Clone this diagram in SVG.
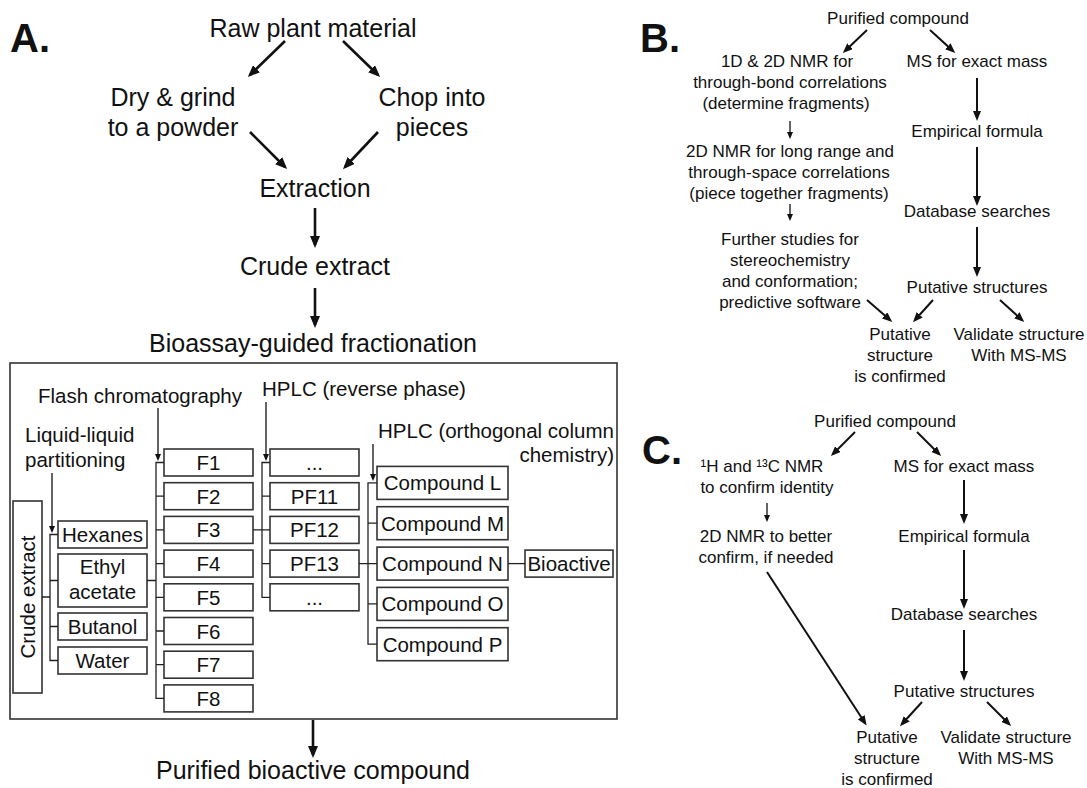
<svg xmlns="http://www.w3.org/2000/svg" width="1087" height="788" viewBox="0 0 1087 788">
<defs>
<style>
text{font-family:"Liberation Sans",Arial,sans-serif;fill:#111}
.big{font-size:25px}
.md{font-size:20.5px}
.sm{font-size:17px}
.lab{font-size:40px;font-weight:bold}
.mid{text-anchor:middle}
.box{fill:#fff;stroke:#333;stroke-width:1.6}
.br{fill:none;stroke:#222;stroke-width:1.3}
.aA{stroke:#111;stroke-width:2.6;fill:none;marker-end:url(#hA)}
.aB{stroke:#111;stroke-width:2;fill:none;marker-end:url(#hB)}
.aS{stroke:#111;stroke-width:1.3;fill:none;marker-end:url(#hS)}
</style>
<marker id="hA" markerUnits="userSpaceOnUse" viewBox="0 0 12 10" markerWidth="12" markerHeight="10" refX="9" refY="5" orient="auto"><path d="M0,0L12,5L0,10z" fill="#111"/></marker>
<marker id="hB" markerUnits="userSpaceOnUse" viewBox="0 0 10 8" markerWidth="10" markerHeight="8" refX="7" refY="4" orient="auto"><path d="M0,0L10,4L0,8z" fill="#111"/></marker>
<marker id="hS" markerUnits="userSpaceOnUse" viewBox="0 0 7 6" markerWidth="7" markerHeight="6" refX="5" refY="3" orient="auto"><path d="M0,0L7,3L0,6z" fill="#111"/></marker>
</defs>
<rect width="1087" height="788" fill="#fff"/>

<g id="labels">
<text class="lab" x="10" y="52">A.</text>
<text class="lab" x="640" y="52">B.</text>
<text class="lab" x="642" y="464">C.</text>
</g>

<g id="fractionation-box"><rect x="10" y="363" width="607" height="356" fill="none" stroke="#333" stroke-width="1.6"/></g>

<g id="raw"><text class="big mid" x="313" y="37">Raw plant material</text></g>
<g id="dry"><text class="big mid" x="173" y="106">Dry &amp; grind</text><text class="big mid" x="173" y="136">to a powder</text></g>
<g id="chop"><text class="big mid" x="432" y="106">Chop into</text><text class="big mid" x="432" y="136">pieces</text></g>
<g id="extraction"><text class="big mid" x="315" y="197">Extraction</text></g>
<g id="crude"><text class="big mid" x="315" y="275">Crude extract</text></g>
<g id="bioassay"><text class="big mid" x="313" y="352">Bioassay-guided fractionation</text></g>
<g id="purified"><text class="big mid" x="313" y="779">Purified bioactive compound</text></g>

<g id="flash-label"><text class="md" x="38" y="403">Flash chromatography</text></g>
<g id="hplc-rp-label"><text class="md" x="262" y="396">HPLC (reverse phase)</text></g>
<g id="lle-label"><text class="md" x="25" y="442">Liquid-liquid</text><text class="md" x="25" y="467">partitioning</text></g>
<g id="hplc-orth-label"><text class="md" x="378" y="438">HPLC (orthogonal column</text><text class="md" x="614" y="462" text-anchor="end">chemistry)</text></g>

<g id="crude-box"><rect class="box" x="13" y="501" width="29" height="192"/><text class="md mid" x="27.5" y="597" transform="rotate(-90 27.5 597)" dy="7.5">Crude extract</text></g>
<g id="hexanes"><rect class="box" x="58" y="521" width="89" height="27"/><text class="md mid" x="102.5" y="542">Hexanes</text></g>
<g id="ethyl"><rect class="box" x="58" y="554" width="89" height="53"/><text class="md mid" x="102.5" y="574">Ethyl</text><text class="md mid" x="102.5" y="599">acetate</text></g>
<g id="butanol"><rect class="box" x="58" y="613" width="89" height="27"/><text class="md mid" x="102.5" y="634">Butanol</text></g>
<g id="water"><rect class="box" x="58" y="647" width="89" height="27"/><text class="md mid" x="102.5" y="668">Water</text></g>

<g id="F1"><rect class="box" x="164" y="449" width="89" height="27"/><text class="md mid" x="208.5" y="470">F1</text></g>
<g id="F2"><rect class="box" x="164" y="482.7" width="89" height="27"/><text class="md mid" x="208.5" y="503.7">F2</text></g>
<g id="F3"><rect class="box" x="164" y="516.4" width="89" height="27"/><text class="md mid" x="208.5" y="537.4">F3</text></g>
<g id="F4"><rect class="box" x="164" y="550.1" width="89" height="27"/><text class="md mid" x="208.5" y="571.1">F4</text></g>
<g id="F5"><rect class="box" x="164" y="583.8" width="89" height="27"/><text class="md mid" x="208.5" y="604.8">F5</text></g>
<g id="F6"><rect class="box" x="164" y="617.5" width="89" height="27"/><text class="md mid" x="208.5" y="638.5">F6</text></g>
<g id="F7"><rect class="box" x="164" y="651.2" width="89" height="27"/><text class="md mid" x="208.5" y="672.2">F7</text></g>
<g id="F8"><rect class="box" x="164" y="684.9" width="89" height="27"/><text class="md mid" x="208.5" y="705.9">F8</text></g>

<g id="PF-top"><rect class="box" x="270" y="449" width="89" height="27"/><text class="md mid" x="314.5" y="470">...</text></g>
<g id="PF11"><rect class="box" x="270" y="482.7" width="89" height="27"/><text class="md mid" x="314.5" y="503.7">PF11</text></g>
<g id="PF12"><rect class="box" x="270" y="516.4" width="89" height="27"/><text class="md mid" x="314.5" y="537.4">PF12</text></g>
<g id="PF13"><rect class="box" x="270" y="550.1" width="89" height="27"/><text class="md mid" x="314.5" y="571.1">PF13</text></g>
<g id="PF-bottom"><rect class="box" x="270" y="583.8" width="89" height="27"/><text class="md mid" x="314.5" y="604.8">...</text></g>

<g id="cmpL"><rect class="box" x="377" y="466.4" width="131" height="33"/><text class="md mid" x="442.5" y="490.4">Compound L</text></g>
<g id="cmpM"><rect class="box" x="377" y="506.7" width="131" height="33"/><text class="md mid" x="442.5" y="530.7">Compound M</text></g>
<g id="cmpN"><rect class="box" x="377" y="547.1" width="131" height="33"/><text class="md mid" x="442.5" y="571.1">Compound N</text></g>
<g id="cmpO"><rect class="box" x="377" y="587.4" width="131" height="33"/><text class="md mid" x="442.5" y="611.4">Compound O</text></g>
<g id="cmpP"><rect class="box" x="377" y="627.7" width="131" height="33"/><text class="md mid" x="442.5" y="651.7">Compound P</text></g>
<g id="bioactive"><rect class="box" x="525" y="550.1" width="88" height="27"/><text class="md mid" x="569" y="571.1">Bioactive</text></g>

<g id="B-purified"><text class="sm mid" x="898" y="24">Purified compound</text></g>
<g id="B-nmr1"><text class="sm mid" x="787" y="67">1D &amp; 2D NMR for</text><text class="sm mid" x="790" y="88">through-bond correlations</text><text class="sm mid" x="786" y="109">(determine fragments)</text></g>
<g id="B-ms"><text class="sm mid" x="977" y="67">MS for exact mass</text></g>
<g id="B-nmr2"><text class="sm mid" x="790" y="157">2D NMR for long range and</text><text class="sm mid" x="789" y="178">through-space correlations</text><text class="sm mid" x="789" y="199">(piece together fragments)</text></g>
<g id="B-empirical"><text class="sm mid" x="977" y="137">Empirical formula</text></g>
<g id="B-database"><text class="sm mid" x="977" y="217">Database searches</text></g>
<g id="B-further"><text class="sm mid" x="790" y="245">Further studies for</text><text class="sm mid" x="790" y="266">stereochemistry</text><text class="sm mid" x="790" y="287">and conformation;</text><text class="sm mid" x="790" y="308">predictive software</text></g>
<g id="B-putative-structures"><text class="sm mid" x="977" y="293">Putative structures</text></g>
<g id="B-confirmed"><text class="sm mid" x="900" y="340">Putative</text><text class="sm mid" x="900" y="361">structure</text><text class="sm mid" x="900" y="382">is confirmed</text></g>
<g id="B-validate"><text class="sm mid" x="1019" y="340">Validate structure</text><text class="sm mid" x="1019" y="361">With MS-MS</text></g>

<g id="C-purified"><text class="sm mid" x="885" y="427">Purified compound</text></g>
<g id="C-nmr1"><text class="sm mid" x="762" y="472">¹H and ¹³C NMR</text><text class="sm mid" x="767" y="493">to confirm identity</text></g>
<g id="C-ms"><text class="sm mid" x="964" y="472">MS for exact mass</text></g>
<g id="C-nmr2"><text class="sm mid" x="766" y="542">2D NMR to better</text><text class="sm mid" x="766" y="563">confirm, if needed</text></g>
<g id="C-empirical"><text class="sm mid" x="964" y="542">Empirical formula</text></g>
<g id="C-database"><text class="sm mid" x="964" y="620">Database searches</text></g>
<g id="C-putative-structures"><text class="sm mid" x="964" y="697">Putative structures</text></g>
<g id="C-confirmed"><text class="sm mid" x="887" y="743">Putative</text><text class="sm mid" x="887" y="764">structure</text><text class="sm mid" x="887" y="785">is confirmed</text></g>
<g id="C-validate"><text class="sm mid" x="1006" y="743">Validate structure</text><text class="sm mid" x="1006" y="764">With MS-MS</text></g>

<g id="connectors">
<line class="aA" x1="285" y1="41" x2="250" y2="75"/>
<line class="aA" x1="343" y1="41" x2="378" y2="75"/>
<line class="aA" x1="250" y1="132" x2="285" y2="167"/>
<line class="aA" x1="378" y1="132" x2="345" y2="167"/>
<line class="aA" x1="315" y1="208" x2="315" y2="245"/>
<line class="aA" x1="315" y1="288" x2="315" y2="325"/>
<line class="aA" x1="313" y1="720" x2="313" y2="755"/>

<line class="aS" x1="158" y1="408" x2="158" y2="459"/>
<line class="aS" x1="266" y1="402" x2="266" y2="459"/>
<line class="aS" x1="52" y1="473" x2="52" y2="531"/>
<line class="aS" x1="373" y1="444" x2="373" y2="479"/>

<path class="br" d="M42,597H50M58,534.5H50V660.5H58M50,580.5H58M50,626.5H58"/>
<path class="br" d="M147,580.5H156M164,462.5H156V698.4H164M156,496.2H164M156,529.9H164M156,563.6H164M156,597.3H164M156,631H164M156,664.7H164"/>
<path class="br" d="M253,529.9H262M270,462.5H262V597.3H270M262,496.2H270M262,529.9H270M262,563.6H270"/>
<path class="br" d="M359,563.6H368M377,482.9H368V644.2H377M368,523.2H377M368,563.6H377M368,603.9H377"/>
<path class="br" d="M508,563.6H525"/>

<line class="aB" x1="867" y1="30" x2="845" y2="51"/>
<line class="aB" x1="930" y1="30" x2="953" y2="51"/>
<line class="aS" x1="790" y1="121" x2="790" y2="137"/>
<line class="aB" x1="977" y1="78" x2="977" y2="118"/>
<line class="aB" x1="977" y1="147" x2="977" y2="203"/>
<line class="aS" x1="790" y1="204" x2="790" y2="219"/>
<line class="aB" x1="977" y1="227" x2="977" y2="274"/>
<line class="aB" x1="867" y1="300" x2="890" y2="320"/>
<line class="aB" x1="933" y1="300" x2="915" y2="320"/>
<line class="aB" x1="1000" y1="300" x2="1022" y2="320"/>

<line class="aB" x1="855" y1="432" x2="833" y2="454"/>
<line class="aB" x1="917" y1="432" x2="939" y2="454"/>
<line class="aS" x1="767" y1="503" x2="767" y2="520"/>
<line class="aB" x1="964" y1="480" x2="964" y2="521"/>
<line class="aB" x1="964" y1="550" x2="964" y2="606"/>
<line class="aB" x1="964" y1="630" x2="964" y2="678"/>
<line class="aB" x1="767" y1="572" x2="865" y2="723"/>
<line class="aB" x1="922" y1="702" x2="902" y2="724"/>
<line class="aB" x1="987" y1="702" x2="1009" y2="724"/>
</g>
</svg>
